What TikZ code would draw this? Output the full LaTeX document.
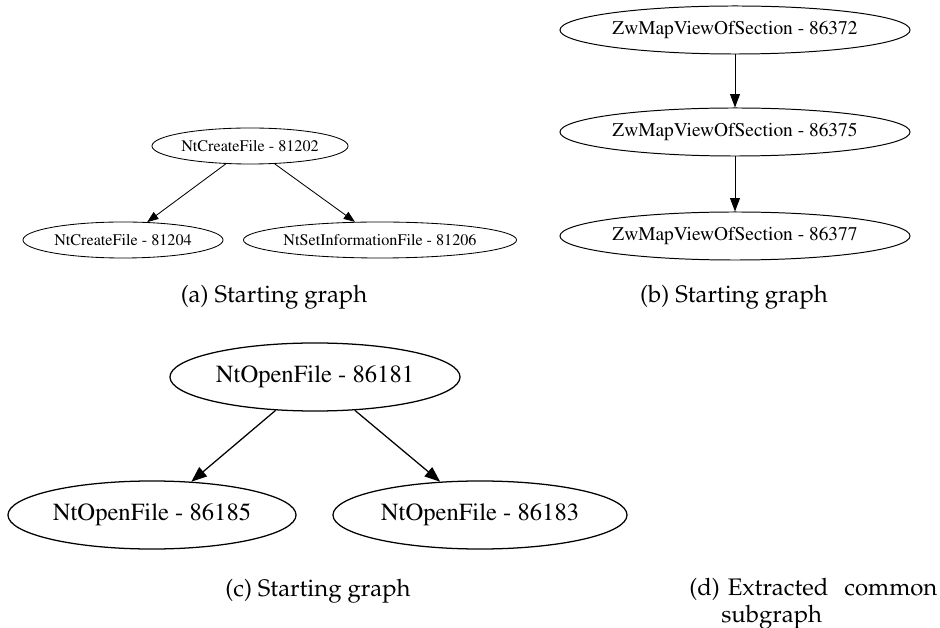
\documentclass[tikz,border=0pt]{standalone}
\usepackage[T1]{fontenc}
\usetikzlibrary{shapes.geometric,arrows.meta}

\tikzset{
  gnode/.style={draw, ellipse, inner sep=0pt, fill=white},
  gsmall/.style={gnode, line width=0.6pt, minimum height=0.9cm,
    font=\fontfamily{ptm}\fontsize{11.5}{13}\selectfont},
  gmid/.style={gnode, line width=0.7pt, minimum width=8.75cm, minimum height=1.2cm,
    font=\fontfamily{ptm}\fontsize{13.8}{16}\selectfont},
  gbig/.style={gnode, line width=0.9pt, minimum height=1.7cm,
    font=\fontfamily{ptm}\fontsize{17.5}{20}\selectfont},
  esmall/.style={line width=0.6pt, -{Triangle[length=8pt,width=6pt]}},
  emid/.style={line width=0.7pt, -{Triangle[length=9.5pt,width=7pt]}},
  ebig/.style={line width=0.9pt, -{Triangle[length=11pt,width=8.5pt]}},
  captext/.style={font=\fontfamily{ppl}\fontsize{17}{19}\selectfont},
}

\begin{document}
\begin{tikzpicture}[x=0.025cm, y=-0.025cm]
\useasboundingbox (0,0) rectangle (940,628);

% (a) NtCreateFile tree
\node[gsmall, minimum width=4.9cm] (a1) at (250,146) {NtCreateFile - 81202};
\node[gsmall, minimum width=5.0cm] (a2) at (123,240) {NtCreateFile - 81204};
\node[gsmall, minimum width=6.7cm] (a3) at (380,240) {NtSetInformationFile - 81206};
\draw[esmall] (a1) -- (a2);
\draw[esmall] (a1) -- (a3);
\node[captext] (capa) at (274,297) {(a) Starting graph};

% (b) ZwMapViewOfSection chain
\node[gmid] (b1) at (735,30)  {ZwMapViewOfSection - 86372};
\node[gmid] (b2) at (735,132) {ZwMapViewOfSection - 86375};
\node[gmid] (b3) at (735,236) {ZwMapViewOfSection - 86377};
\draw[emid] (b1) -- (b2);
\draw[emid] (b2) -- (b3);
\node[captext] (capb) at (734,297) {(b) Starting graph};

% (c) NtOpenFile tree
\node[gbig, minimum width=7.25cm] (c1) at (315,377) {NtOpenFile - 86181};
\node[gbig, minimum width=7.2cm]  (c2) at (152,515) {NtOpenFile - 86185};
\node[gbig, minimum width=7.35cm] (c3) at (480,515) {NtOpenFile - 86183};
\draw[ebig] (c1) -- (c2);
\draw[ebig] (c1) -- (c3);
\node[captext] (capc) at (318,591) {(c) Starting graph};

% (d) caption only
\node[captext, anchor=north west, inner sep=0pt, text width=6.2cm, align=left]
  (capd) at (689,578) {(d) Extracted\hfill common\\\hspace*{0.8cm}subgraph};
\end{tikzpicture}
\end{document}
